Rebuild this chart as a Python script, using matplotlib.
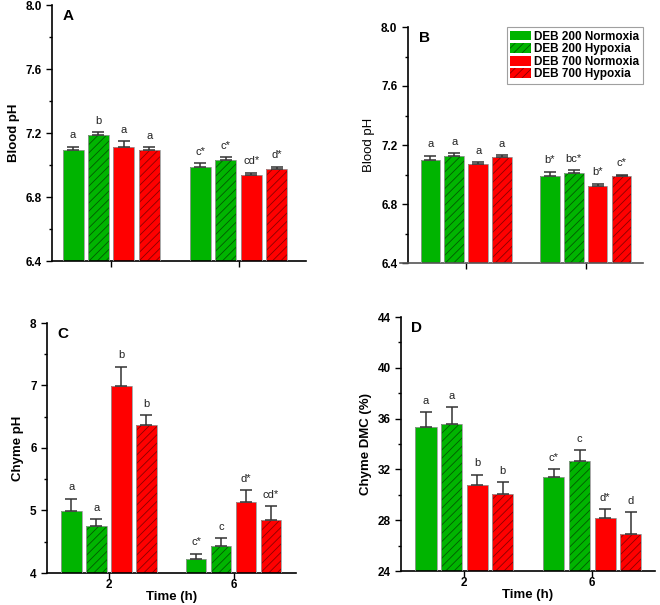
import matplotlib
matplotlib.use("Agg")
import matplotlib.pyplot as plt
import numpy as np
from matplotlib.patches import Patch

plt.rcParams['font.family'] = ['Liberation Sans', 'DejaVu Sans']
plt.rcParams['hatch.linewidth'] = 0.6

times = ["2", "6"]
series = ["DEB 200 Normoxia", "DEB 200 Hypoxia", "DEB 700 Normoxia", "DEB 700 Hypoxia"]

# Panel A: Blood pH
a_mean = [[7.092, 7.185, 7.115, 7.096], [6.985, 7.029, 6.937, 6.973]]
a_err = [[0.023, 0.019, 0.033, 0.014], [0.027, 0.019, 0.015, 0.017]]
a_lab = [["a", "b", "a", "a"], ["c*", "c*", "cd*", "d*"]]

# Panel B: Blood pH
b_mean = [[7.101, 7.128, 7.069, 7.119], [6.988, 7.012, 6.920, 6.988]]
b_err = [[0.027, 0.015, 0.016, 0.011], [0.031, 0.018, 0.018, 0.011]]
b_lab = [["a", "a", "a", "a"], ["b*", "bc*", "b*", "c*"]]

# Panel C: Chyme pH
c_mean = [[4.99, 4.76, 6.99, 6.37], [4.22, 4.44, 5.14, 4.85]]
c_err = [[0.20, 0.10, 0.31, 0.15], [0.09, 0.12, 0.19, 0.22]]
c_lab = [["a", "a", "b", "b"], ["c*", "c", "d*", "cd*"]]

# Panel D: Chyme DMC (%)
d_mean = [[35.37, 35.55, 30.79, 30.05], [31.37, 32.66, 28.21, 26.90]]
d_err = [[1.13, 1.34, 0.79, 0.95], [0.66, 0.84, 0.69, 1.76]]
d_lab = [["a", "a", "b", "b"], ["c*", "c", "d*", "d"]]

colors = ["#00B400", "#00B400", "#FF0000", "#FF0000"]
hatch_colors = [None, "#005a00", None, "#8a0000"]
hatches = [None, "////", None, "////"]

W, H = 660, 605
fig = plt.figure(figsize=(W / 100, H / 100), dpi=100)


def ax_at(l, t, r, b):
    return fig.add_axes([l / W, 1 - b / H, (r - l) / W, (b - t) / H])


def panel(ax, mean, err, labs, ylim, yticks, minor, ylabel, letter, xlabels, xl,
          spine_x=None, ylabel_bold=True):
    mean = np.array(mean)
    err = np.array(err)
    x = np.arange(len(times))
    step, width = 0.2, 0.165
    for i in range(4):
        xs = x + (i - 1.5) * step
        vals = mean[:, i]
        if hatches[i]:
            ax.bar(xs, vals - ylim[0], width, bottom=ylim[0], color=colors[i],
                   edgecolor=hatch_colors[i], hatch=hatches[i], linewidth=0, zorder=2)
        else:
            ax.bar(xs, vals - ylim[0], width, bottom=ylim[0], color=colors[i],
                   linewidth=0, zorder=2)
        ax.bar(xs, vals - ylim[0], width, bottom=ylim[0], fill=False,
               edgecolor="#9a9a9a", linewidth=0.6, zorder=3)
        ax.errorbar(xs, vals, yerr=[np.zeros_like(err[:, i]), err[:, i]], fmt="none",
                    ecolor="#333333", elinewidth=1.1, capsize=4.5, capthick=1.1, zorder=4)
        for j in range(len(x)):
            ax.annotate(labs[j][i], (xs[j], vals[j] + err[j, i]), xytext=(0, 4.5),
                        textcoords="offset points", ha="center", va="bottom",
                        fontsize=8, color="#222222")
    ax.set_ylim(*ylim)
    ax.set_xlim(*xl)
    ax.set_yticks(yticks)
    ax.set_yticks(minor, minor=True)
    ax.set_xticks(x)
    ax.tick_params(axis="both", which="major", direction="out", length=4, width=1,
                   labelsize=8.5)
    ax.tick_params(axis="x", which="major", pad=0.5)
    ax.tick_params(axis="y", which="minor", direction="out", length=2.5, width=1)
    if xlabels:
        ax.set_xticklabels(times, fontweight="bold")
        ax.set_xlabel("Time (h)", fontweight="bold", fontsize=9.5, labelpad=0)
    else:
        ax.set_xticklabels([])
    for t in ax.get_yticklabels():
        t.set_fontweight("bold")
    ax.set_ylabel(ylabel, fontweight="bold" if ylabel_bold else "normal", fontsize=9.5)
    for s in ["top", "right"]:
        ax.spines[s].set_visible(False)
    for s in ["left", "bottom"]:
        ax.spines[s].set_linewidth(1.2)
    if spine_x is not None:
        ax.spines["left"].set_position(("data", spine_x))
        ax.spines["bottom"].set_color("#555555")
    ax.text(0.04 if spine_x is None else 0.08, 0.985, letter, transform=ax.transAxes,
            fontsize=11, fontweight="bold", va="top", ha="left")


axA = ax_at(52, 5, 306, 261)
panel(axA, a_mean, a_err, a_lab, (6.4, 8.0), [6.4, 6.8, 7.2, 7.6, 8.0],
      [6.6, 7.0, 7.4, 7.8], "Blood pH", "A", False, (-0.465, 1.53))
axA.set_yticklabels(["6.4", "6.8", "7.2", "7.6", "8.0"], fontweight="bold")

axB = ax_at(400, 27, 643, 263)
panel(axB, b_mean, b_err, b_lab, (6.4, 8.0), [6.4, 6.8, 7.2, 7.6, 8.0],
      [6.6, 7.0, 7.4, 7.8], "Blood pH", "B", False, (-0.555, 1.48), spine_x=-0.49,
      ylabel_bold=False)
axB.set_yticklabels(["6.4", "6.8", "7.2", "7.6", "8.0"], fontweight="bold")

axC = ax_at(47, 323, 296, 573)
panel(axC, c_mean, c_err, c_lab, (4, 8), [4, 5, 6, 7, 8], [4.5, 5.5, 6.5, 7.5],
      "Chyme pH", "C", True, (-0.496, 1.5))

axD = ax_at(401, 317, 655, 571)
panel(axD, d_mean, d_err, d_lab, (24, 44), [24, 28, 32, 36, 40, 44], [26, 30, 34, 38, 42],
      "Chyme DMC (%)", "D", True, (-0.495, 1.49))

# Legend in panel B
handles = []
for i in range(4):
    if hatches[i]:
        handles.append(Patch(facecolor=colors[i], edgecolor=hatch_colors[i], hatch=hatches[i],
                             linewidth=0, label=series[i]))
    else:
        handles.append(Patch(facecolor=colors[i], edgecolor=colors[i], linewidth=0,
                             label=series[i]))
leg = axB.legend(handles=handles, loc="upper right", bbox_to_anchor=(1.01, 1.01),
                 prop={"weight": "bold", "size": 8.5}, frameon=True, fancybox=False,
                 edgecolor="#888888", handlelength=1.8, handleheight=0.9, handletextpad=0.25,
                 labelspacing=0.05, borderpad=0.3, borderaxespad=0.2)
leg.get_frame().set_linewidth(0.8)

fig.savefig("out.png", dpi=100)
